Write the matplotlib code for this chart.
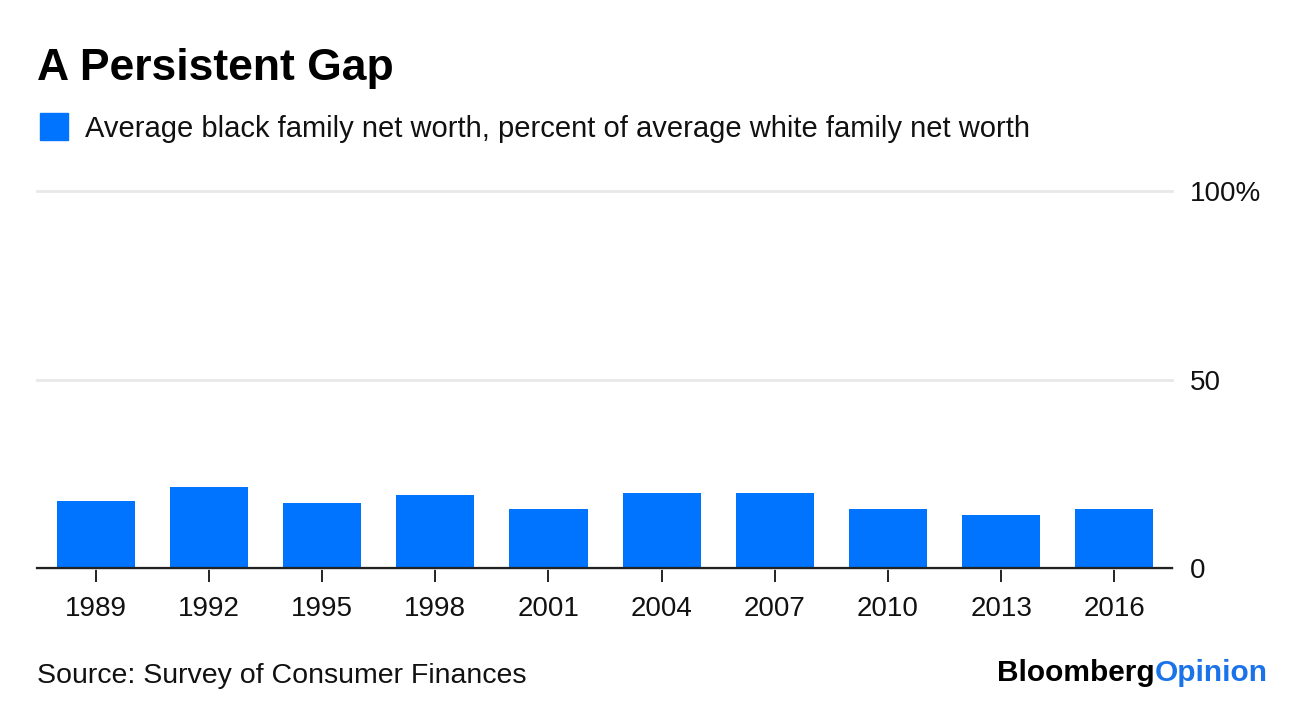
import matplotlib
matplotlib.use("Agg")
import matplotlib.pyplot as plt
from matplotlib.patches import Rectangle

years = ['1989', '1992', '1995', '1998', '2001', '2004', '2007', '2010', '2013', '2016']
pct_of_white = [17.7, 21.4, 17.2, 19.3, 15.6, 19.8, 19.8, 15.6, 14.1, 15.6]
y_ticks = [0, 50, 100]
y_tick_labels = ['0', '50', '100%']

blue = '#0073ff'
plt.rcParams['font.family'] = ['Liberation Sans', 'DejaVu Sans']

W, H = 1296, 706
fig = plt.figure(figsize=(W / 100, H / 100), dpi=100)

# axes placed in pixel coords: left 37, right 1172, zero at 568, 100 at 191
ax = fig.add_axes([37 / W, 1 - 568 / H, (1172 - 37) / W, (568 - 191) / H])
x = list(range(len(years)))
ax.bar(x, pct_of_white, width=0.69, color=blue, zorder=2)
ax.set_xlim(-0.52, len(years) - 0.49)
ax.set_ylim(0, 100)

for s in ['top', 'left', 'right']:
    ax.spines[s].set_visible(False)
ax.spines['bottom'].set_color('#222222')
ax.spines['bottom'].set_linewidth(1.6)
ax.spines['bottom'].set_zorder(3)

ax.set_yticks(y_ticks)
ax.set_yticklabels(y_tick_labels)
ax.yaxis.tick_right()
ax.tick_params(axis='y', length=0, pad=13, labelsize=20, colors='#111111')
ax.set_xticks(x)
ax.set_xticklabels(years)
ax.tick_params(axis='x', length=10, width=1.4, color='#222222', pad=10,
               labelsize=20, labelcolor='#111111')
ax.grid(axis='y', color='#e8e8e8', linewidth=2, zorder=0)
ax.set_axisbelow(True)
for t in ax.get_yticklabels():
    t.set_horizontalalignment('left')
    t.set_clip_on(False)
for gl in ax.get_ygridlines():
    gl.set_clip_on(False)

# title and legend
fig.text(37 / W, 1 - 80 / H, 'A Persistent Gap', fontsize=32, fontweight='bold',
         va='baseline', ha='left', color='#000000')
fig.patches.append(Rectangle((40 / W, 1 - 140 / H), 28 / W, 27 / H,
                             transform=fig.transFigure, color=blue))
fig.text(85 / W, 1 - 137 / H,
         'Average black family net worth, percent of average white family net worth',
         fontsize=21, va='baseline', ha='left', color='#111111')

# footer
fig.text(37 / W, 1 - 683 / H, 'Source: Survey of Consumer Finances', fontsize=20.5,
         va='baseline', ha='left', color='#111111')
t1 = fig.text(1268 / W, 1 - 681 / H, 'Opinion', fontsize=21.5, fontweight='bold',
              va='baseline', ha='right', color='#1a73e8')
fig.canvas.draw()
bb = t1.get_window_extent()
fig.text(bb.x0 / W, 1 - 681 / H, 'Bloomberg', fontsize=21.5, fontweight='bold',
         va='baseline', ha='right', color='#000000')

fig.savefig('out.png', dpi=100)
